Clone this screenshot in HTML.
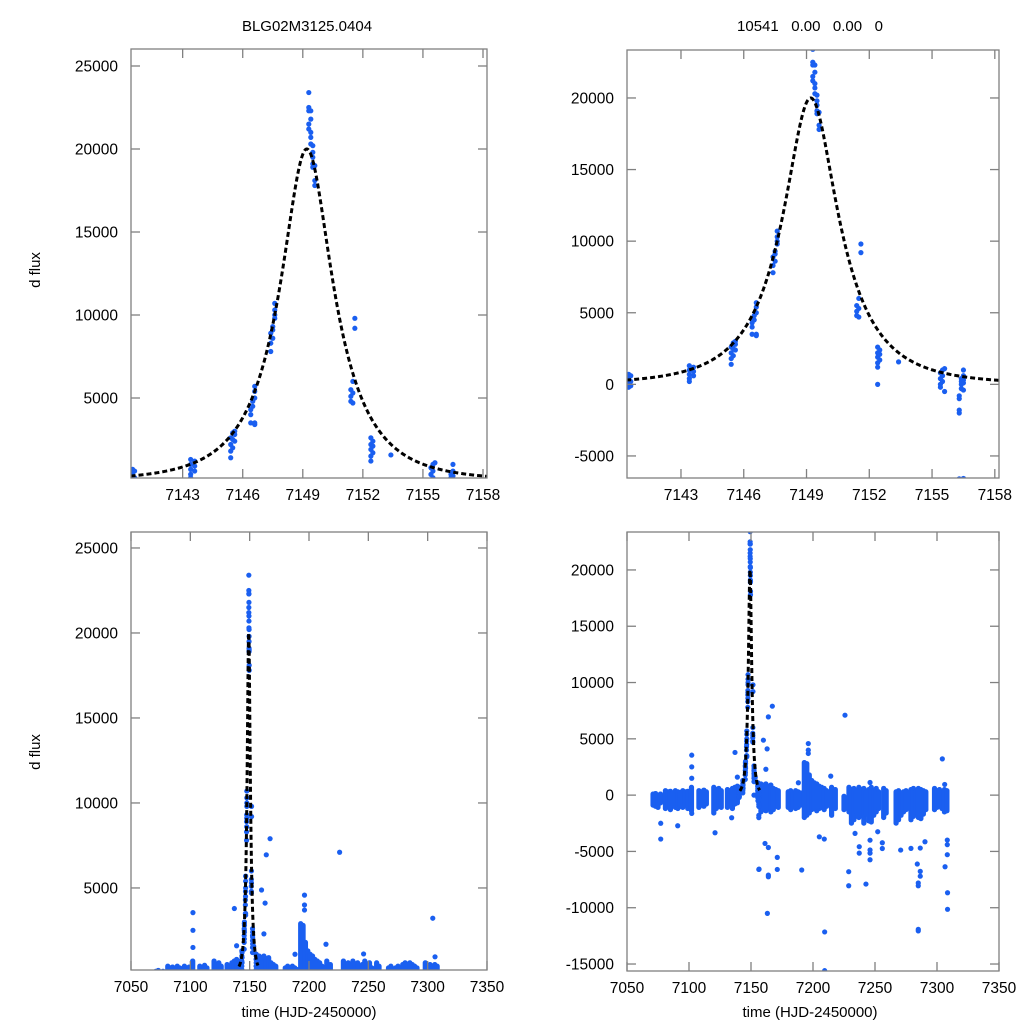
<!DOCTYPE html>
<html><head><meta charset="utf-8"><style>
html,body{margin:0;padding:0;background:#fff;overflow:hidden;width:1024px;height:1024px;}
svg{display:block;font-family:"Liberation Sans",sans-serif;}
</style></head><body>
<svg id="fig" width="1024" height="1024" viewBox="0 0 1024 1024">
<rect width="1024" height="1024" fill="#fff"/>
<text x="307" y="31" font-size="15" text-anchor="middle">BLG02M3125.0404</text>
<text x="810" y="31" font-size="15" text-anchor="middle" xml:space="preserve">10541   0.00   0.00   0</text>
<text transform="translate(40,270) rotate(-90)" font-size="15" text-anchor="middle">d flux</text>
<text transform="translate(40,752) rotate(-90)" font-size="15" text-anchor="middle">d flux</text>
<text x="309" y="1017" font-size="15" text-anchor="middle">time (HJD-2450000)</text>
<text x="810" y="1017" font-size="15" text-anchor="middle">time (HJD-2450000)</text>
</svg>
<script>
// ---- data: observations near peak ----
const peakT = [7140.5,7140.5,7140.5,7140.5,7140.5,7140.6,7140.6,7140.6,
7143.4,7143.4,7143.4,7143.4,7143.4,7143.6,7143.6,7143.6,
7145.4,7145.4,7145.4,7145.4,7145.5,7145.5,7145.5,7145.6,7145.6,7145.6,
7146.4,7146.4,7146.4,7146.5,7146.5,7146.6,7146.6,7146.6,7146.6,7146.6,
7147.4,7147.4,7147.4,7147.5,7147.5,7147.5,7147.6,7147.6,7147.6,7147.6,
7149.3,7149.3,7149.3,7149.3,7149.3,7149.4,7149.4,7149.4,7149.4,7149.4,7149.5,7149.5,7149.5,7149.5,7149.5,7149.6,7149.6,7149.6,
7151.4,7151.4,7151.4,7151.5,7151.5,7151.5,7151.6,7151.6,
7152.4,7152.4,7152.4,7152.4,7152.4,7152.4,7152.5,7152.5,7152.5,
7153.4,
7155.4,7155.4,7155.4,7155.4,7155.5,7155.5,7155.5,7155.6,7155.6,
7156.3,7156.3,7156.3,7156.3,7156.3,7156.4,7156.4,7156.4,7156.4,7156.5,7156.5,7156.5,7156.5,7156.5];
const peakF = [700,500,300,100,-200,600,200,-100,
1300,1000,700,400,200,1200,900,600,
1400,1800,2200,2600,2000,2500,2900,2400,2800,3000,
3500,4000,4300,4500,4800,5000,5400,5700,3400,3500,
7800,8300,8900,9100,8600,9300,9800,10300,10700,10000,
23400,22500,22300,21500,21200,21000,20700,20300,22300,21800,19500,19800,19100,20200,18900,17800,18100,19000,
5500,5100,4800,5300,4700,6000,9800,9200,
2600,2200,1900,1500,1200,0,2400,1700,2100,
1570,
800,400,0,-200,1000,600,200,1100,-500,
-1000,-1800,-2000,-800,-6600,400,0,-300,200,1000,600,300,100,-400];
// ---- outliers over the full season ----
const outT = [7102.2,7102.2,7102.2,7102.2,7137.1,7139,7077.2,7077.2,7090.9,7121,7134.4,
7167.2,7164,7160,7163,7162,7161.3,7164,7156.5,7164,7164,7171.2,7171.2,7163.2,
7190.9,7188.2,7196.2,7196.2,7196.2,7205.1,7209.1,7214.3,7225.8,7228.8,7228.8,7209.4,7209.4,
7233.9,7237.3,7237.3,7242.7,7246,7246,7246,7246,7246,7252.2,7255.9,7255.9,
7270.7,7279,7284.1,7284.9,7284.9,7284.9,7284.9,7286.5,7286.5,7286.5,7290.3,
7304.3,7306.2,7306.5,7308.3,7308.3,7308.3,7308.5,7308.5];
const outF = [3550,2510,1500,-1620,3790,1600,-2500,-3900,-2720,-3340,-2010,
7900,6950,4880,4110,2300,-4290,-4650,-6570,-7100,-7250,-5530,-6600,-10500,
-6650,1100,4580,4000,3700,-3700,-3900,1690,7100,-6800,-8050,-12150,-15590,
-3400,-4580,-5150,-7900,-4000,-4870,-5150,-5740,1120,-3250,-4230,-4740,
-4880,-4730,-6120,-8050,-7800,-11920,-12060,-4700,-6770,-7200,-4140,
3220,950,-6360,-3990,-4400,-5290,-8670,-10140];
// ---- nightly baseline ranges: night time, low, high ----
const nightT  = [7071,7073,7075,7077,7081,7083,7085,7087,7089,7091,7093,7095,7097,7099,7102,7108,7110,7112,7114,7120,7122,7124,7126,7131,7133,7135,7137,7139,
7158,7160,7162,7164,7166,7168,7170,7172,7180,7182,7184,7186,7188,7190,7193,7195,7197,7199,7201,7203,7205,7207,7209,7211,7215,7218,7225,7229,7231,7233,7235,7237,7239,7241,7243,7245,7247,7249,7251,7253,7257,7259,7267,7269,7271,7273,7275,7279,7281,7283,7285,7287,7289,7291,7298,7300,7302,7304,7306,7308];
const nightLo = [-900,-1000,-1100,-700,-1200,-1000,-1300,-900,-1100,-1200,-1000,-1100,-900,-1200,-1400,-1100,-900,-1000,-800,-1600,-1200,-1000,-1100,-1100,-900,-1200,-800,-700,
-1500,-1300,-1400,-1200,-1500,-1300,-1000,-1100,-1100,-1300,-1000,-1200,-1100,-900,-2000,-1800,-1600,-1300,-1200,-1400,-1200,-1100,-1300,-1000,-1800,-1200,-1300,-1500,-2500,-2200,-1500,-2000,-1800,-2500,-1700,-2300,-2400,-1800,-1500,-1200,-2000,-1600,-2500,-2200,-1800,-1500,-1300,-2200,-1900,-1500,-2000,-2100,-1700,-1300,-1300,-1100,-1000,-1200,-1500,-1400];
const nightHi = [100,150,0,100,400,300,350,200,400,300,250,400,300,350,700,400,300,450,300,700,500,600,400,500,400,600,700,800,
1000,900,1000,800,900,600,500,400,300,400,200,400,300,200,2900,2800,1800,1300,1100,1000,800,700,600,400,700,500,-100,700,500,600,400,700,500,600,300,500,700,400,600,300,600,400,300,400,200,300,400,500,600,300,600,500,400,300,600,400,500,300,500,400];
// ---- fitted microlensing model ----
const modelT0 = [7149.2], modelU0 = [0.4], modelTE = [3.33], modelPeak = [20000];
// ---- ticks ----
const zoomXTicks = [7143,7146,7149,7152,7155,7158];
const wideXTicks = [7050,7100,7150,7200,7250,7300,7350];
const ticksTL = [5000,10000,15000,20000,25000];
const ticksTR = [-5000,0,5000,10000,15000,20000];
const ticksBL = [5000,10000,15000,20000,25000];
const ticksBR = [-15000,-10000,-5000,0,5000,10000,15000,20000];

const NS = "http://www.w3.org/2000/svg";
const svg = document.getElementById('fig');
function mk(tag, attrs, parent){ const e=document.createElementNS(NS,tag); for(const k in attrs) e.setAttribute(k,attrs[k]); (parent||svg).appendChild(e); return e; }
function amp(u){ return (u*u+2)/(u*Math.sqrt(u*u+4)); }
function model(t){
  const u0=modelU0[0], tau=(t-modelT0[0])/modelTE[0], u=Math.sqrt(u0*u0+tau*tau);
  return modelPeak[0]*(amp(u)-1)/(amp(u0)-1);
}
const BLUE = "#1a5ff0";
function panel(id, px0, px1, py0, py1, t0, t1, f0, f1, xt, yt, mt0, mt1, wide){
  const X = t => px0 + (t - t0) / (t1 - t0) * (px1 - px0);
  const Y = f => py1 - (f - f0) / (f1 - f0) * (py1 - py0);
  const g = mk('g', {});
  
  
  const cp = mk('clipPath', {id: id + '-clip'}, g);
  mk('rect', {x: px0, y: py0, width: px1 - px0, height: py1 - py0}, cp);
  const data = mk('g', {'clip-path': 'url(#' + id + '-clip)'}, g);
  
  
  if (wide) {
    for (let i = 0; i < nightT.length; i++) {
      const x = X(nightT[i]);
      const y0 = Y(nightHi[i]) - 2.5, y1 = Y(nightLo[i]) + 2.5;
      const r = mk('rect', {x: x - 2.6, y: y0, width: 5.2, height: Math.max(5, y1 - y0), rx: 2.5, fill: BLUE}, data);
      
      
    }
  }
  const pts = [[peakT, peakF], [outT, outF]];
  for (const [T, F] of pts) for (let i = 0; i < T.length; i++) {
    const c = mk('circle', {cx: X(T[i]), cy: Y(F[i]), r: 2.6, fill: BLUE}, data);
    
    
  }
  let d = '';
  for (let k = 0; k <= 600; k++) {
    const t = mt0 + (mt1 - mt0) * k / 600;
    d += (k ? 'L' : 'M') + X(t).toFixed(2) + ',' + Y(model(t)).toFixed(2);
  }
  const p = mk('path', {d: d, fill: 'none', stroke: '#000', 'stroke-width': 3, 'stroke-dasharray': '5,3'}, data);
  
  
  const fr = mk('rect', {x: px0, y: py0, width: px1 - px0, height: py1 - py0, fill: 'none', stroke: '#808080', 'stroke-width': 1.3}, g);
  
  
  for (const t of xt) {
    const x = X(t);
    if (x > px1 + 6) continue;
    mk('line', {x1: x, x2: x, y1: py1, y2: py1 - 9, stroke: '#808080', 'stroke-width': 1.3}, g);
    mk('line', {x1: x, x2: x, y1: py0, y2: py0 + 9, stroke: '#808080', 'stroke-width': 1.3}, g);
    const tx = mk('text', {x: x, y: py1 + 22, 'font-size': 15.5, 'text-anchor': 'middle'}, g);
    tx.textContent = t;
    
    
  }
  for (const f of yt) {
    const y = Y(f);
    mk('line', {x1: px0, x2: px0 + 9, y1: y, y2: y, stroke: '#808080', 'stroke-width': 1.3}, g);
    mk('line', {x1: px1, x2: px1 - 9, y1: y, y2: y, stroke: '#808080', 'stroke-width': 1.3}, g);
    const ty = mk('text', {x: px0 - 13, y: y + 5.5, 'font-size': 15.5, 'text-anchor': 'end'}, g);
    ty.textContent = f;
    
    
  }
}
panel('top-left', 131, 487, 49, 478, 7140.42, 7158.2, 181, 26024, zoomXTicks, ticksTL, 7140, 7159, false);
panel('top-right', 627, 999, 50, 478, 7140.42, 7158.2, -6540, 23350, zoomXTicks, ticksTR, 7140, 7159, false);
panel('bottom-left', 131, 487, 532, 970, 7050, 7350, 174, 25940, wideXTicks, ticksBL, 7141, 7157, true);
panel('bottom-right', 627, 999, 532, 971, 7050, 7350, -15620, 23370, wideXTicks, ticksBR, 7141, 7157, true);
</script>
</body></html>
